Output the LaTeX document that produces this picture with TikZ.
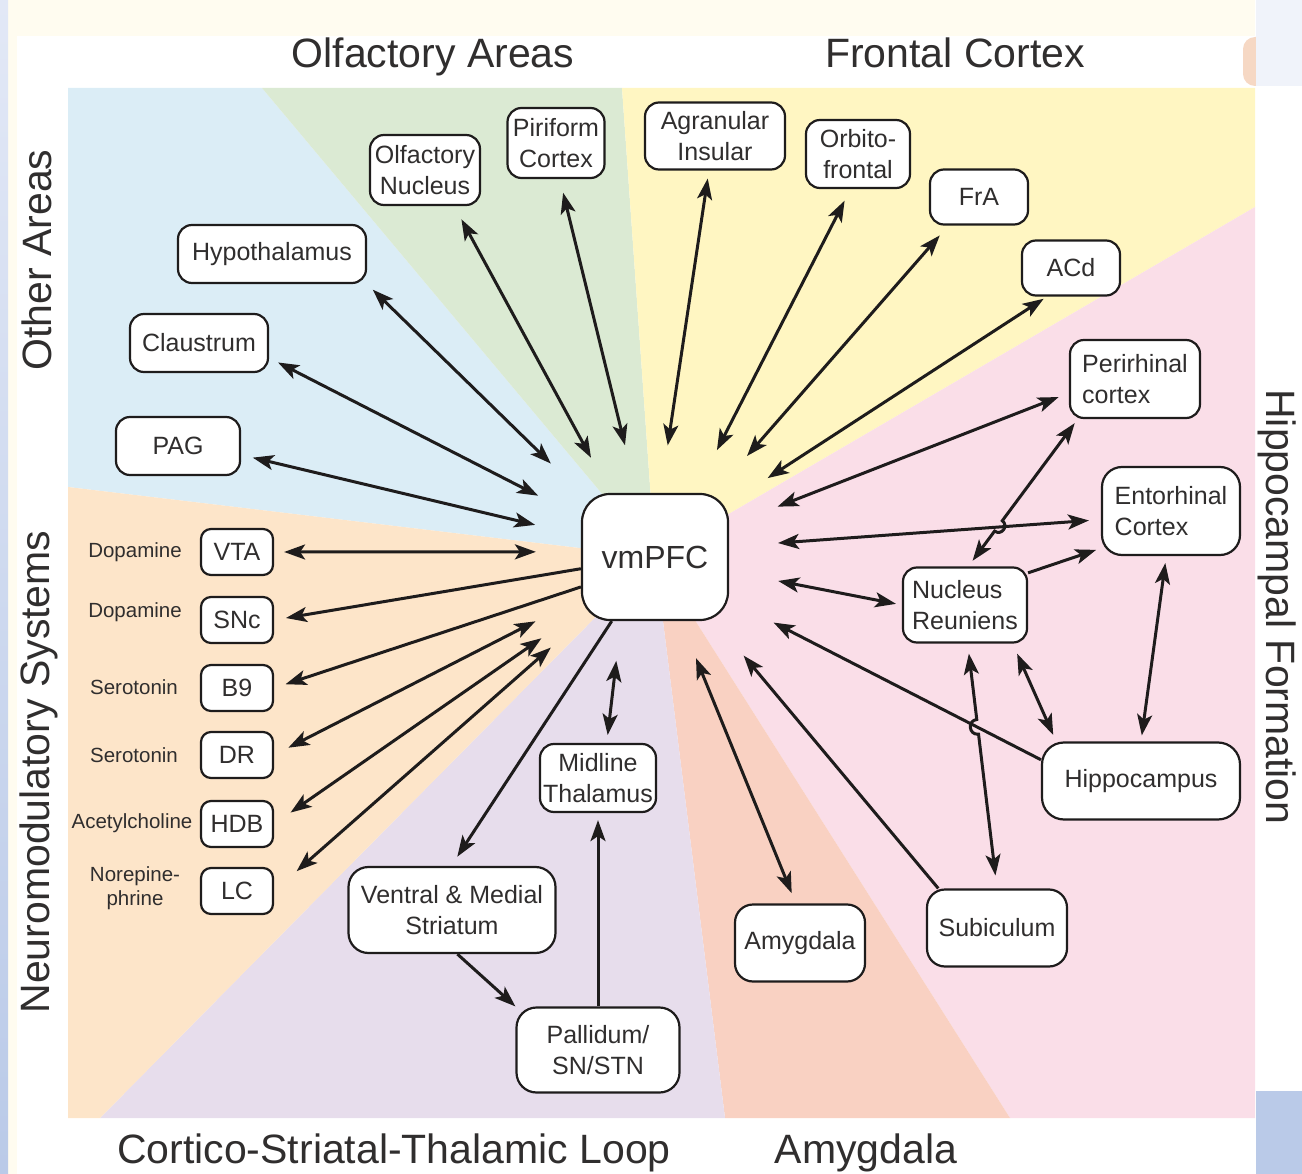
\documentclass[tikz,border=0pt]{standalone}
\usepackage{fontspec}
\setmainfont{Liberation Sans}
\usepackage{tikz}
\usetikzlibrary{arrows.meta,calc}

\definecolor{lineColor}{RGB}{30,28,28}
\definecolor{textColor}{RGB}{48,46,46}
\definecolor{otherColor}{RGB}{219,237,246}
\definecolor{olfactoryColor}{RGB}{219,234,211}
\definecolor{frontalColor}{RGB}{255,246,194}
\definecolor{hippoColor}{RGB}{250,222,232}
\definecolor{amygColor}{RGB}{249,209,194}
\definecolor{loopColor}{RGB}{231,221,236}
\definecolor{neuroColor}{RGB}{253,229,201}
\definecolor{bandColor}{RGB}{255,252,240}
\definecolor{stripTop}{RGB}{226,232,246}
\definecolor{stripBottom}{RGB}{186,202,232}
\definecolor{cornerColor}{RGB}{240,243,250}
\definecolor{peachColor}{RGB}{246,216,196}

\newcommand{\areaFont}{\fontsize{25}{31}\selectfont}
\newcommand{\hubFont}{\fontsize{32}{38}\selectfont}
\newcommand{\titleFont}{\fontsize{41}{48}\selectfont}
\newcommand{\transFont}{\fontsize{20.5}{24}\selectfont}

\tikzstyle{diagram} = [x=1pt, y=-1pt, >={Stealth[length=21pt, width=15pt, inset=5pt]}]
\tikzstyle{areaBox} = [draw=lineColor, line width=2.2pt, fill=white, rounded corners=14pt, align=center, font=\areaFont, text=textColor, inner sep=2pt]
\tikzstyle{hubBox} = [areaBox, rounded corners=28pt, font=\hubFont, minimum width=146pt, minimum height=126pt]
\tikzstyle{nucleusBox} = [areaBox, rounded corners=10pt, minimum width=72pt, minimum height=46pt]
\tikzstyle{transmitter} = [font=\transFont, text=textColor, align=center, inner sep=0pt]
\tikzstyle{panelTitle} = [font=\titleFont, text=textColor, anchor=base, inner sep=0pt]
\tikzstyle{link} = [color=lineColor, line width=3pt]

\newcommand{\sectorFill}[2]{\fill [#1] #2 -- (655,557) -- cycle;}
\newcommand{\bothLink}[4]{\draw [link, <->, shorten <=#3, shorten >=#4] (#1) -- (#2);}
\newcommand{\oneLink}[4]{\draw [link, ->, shorten <=#3, shorten >=#4] (#1) -- (#2);}
\newcommand{\hopLink}[7]{\draw [link, <->, shorten <=#6, shorten >=#7] (#1) -- ($(#1)!#3!(#2)$) to [#5=90, looseness=1.7] ($(#1)!#4!(#2)$) -- (#2);}

\begin{document}
\begin{tikzpicture}[diagram]
\useasboundingbox (0,0) rectangle (1302,1174);
% page edges
\fill [bandColor] (0,0) rectangle (1255,36);
\fill [bandColor] (0,0) rectangle (17,1174);
\shade [top color=stripTop, bottom color=stripBottom] (0,0) rectangle (8,1174);
\fill [peachColor, rounded corners=12pt] (1243,37) rectangle (1275,86);
\fill [cornerColor] (1256,0) rectangle (1302,86);
\fill [stripBottom] (1256,1091) rectangle (1302,1174);

% sectors
\sectorFill{otherColor}{(68,487) -- (68,88) -- (262,88)}
\sectorFill{olfactoryColor}{(262,88) -- (622,88)}
\sectorFill{frontalColor}{(622,88) -- (1255,88) -- (1255,207)}
\sectorFill{hippoColor}{(1255,207) -- (1255,1118) -- (1010,1118)}
\sectorFill{amygColor}{(1010,1118) -- (725,1118)}
\sectorFill{loopColor}{(725,1118) -- (100,1118)}
\sectorFill{neuroColor}{(100,1118) -- (68,1118) -- (68,487)}

% titles
\node [panelTitle] (olfTitle) at (433,68) {Olfactory Areas};
\node [panelTitle] (froTitle) at (955,68) {Frontal Cortex};
\node [panelTitle, rotate=90] (othTitle) at (51,260) {Other Areas};
\node [panelTitle, rotate=90] (neuTitle) at (49,772) {Neuromodulatory Systems};
\node [panelTitle, rotate=-90] (hipTitle) at (1266,607) {Hippocampal Formation};
\node [panelTitle] (cstTitle) at (394,1163) {Cortico-Striatal-Thalamic Loop};
\node [panelTitle] (amyTitle) at (866,1163) {Amygdala};

% areas
\node [hubBox] (vmpfc) at (655,557) {vmPFC};
\node [areaBox, minimum width=110pt, minimum height=70pt] (olfnuc) at (425,170) {Olfactory\\Nucleus};
\node [areaBox, minimum width=97pt, minimum height=70pt] (pirif) at (556,143) {Piriform\\Cortex};
\node [areaBox, minimum width=140pt, minimum height=67pt] (agran) at (715,136) {Agranular\\Insular};
\node [areaBox, minimum width=104pt, minimum height=68pt] (orbito) at (858,154) {Orbito-\\frontal};
\node [areaBox, minimum width=98pt, minimum height=55pt] (fra) at (979,197) {FrA};
\node [areaBox, minimum width=98pt, minimum height=55pt] (acd) at (1071,268) {ACd};
\node [areaBox, minimum width=188pt, minimum height=58pt] (hypo) at (272,254) {Hypothalamus};
\node [areaBox, minimum width=138pt, minimum height=58pt] (claus) at (199,343) {Claustrum};
\node [areaBox, minimum width=124pt, minimum height=58pt] (pag) at (178,446) {PAG};
\node [areaBox, align=left, minimum width=130pt, minimum height=78pt] (peri) at (1135,379) {Perirhinal\\cortex};
\node [areaBox, align=left, minimum width=138pt, minimum height=88pt, rounded corners=20pt] (ento) at (1171,511) {Entorhinal\\Cortex};
\node [areaBox, align=left, minimum width=124pt, minimum height=75pt] (nre) at (965,605) {Nucleus\\Reuniens};
\node [areaBox, minimum width=198pt, minimum height=77pt, rounded corners=22pt] (hippo) at (1141,781) {Hippocampus};
\node [areaBox, minimum width=140pt, minimum height=77pt, rounded corners=18pt] (subic) at (997,928) {Subiculum};
\node [areaBox, minimum width=130pt, minimum height=77pt, rounded corners=18pt] (amyg) at (800,943) {Amygdala};
\node [areaBox, minimum width=116pt, minimum height=68pt] (midthal) at (598,778) {Midline\\Thalamus};
\node [areaBox, minimum width=207pt, minimum height=86pt, rounded corners=20pt] (vstr) at (452,910) {Ventral \& Medial\\Striatum};
\node [areaBox, minimum width=163pt, minimum height=85pt, rounded corners=20pt] (pall) at (598,1050) {Pallidum/\\SN/STN};

% neuromodulatory nuclei
\node [nucleusBox] (vta) at (237,552) {VTA};
\node [nucleusBox] (snc) at (237,620) {SNc};
\node [nucleusBox] (b9) at (237,688) {B9};
\node [nucleusBox] (dr) at (237,755) {DR};
\node [nucleusBox] (hdb) at (237,824) {HDB};
\node [nucleusBox] (lc) at (237,891) {LC};
\node [transmitter] (vtaText) at (135,552) {Dopamine};
\node [transmitter] (sncText) at (135,612) {Dopamine};
\node [transmitter] (b9Text) at (134,687) {Serotonin};
\node [transmitter] (drText) at (134,755) {Serotonin};
\node [transmitter] (hdbText) at (132,823) {Acetylcholine};
\node [transmitter] (lcText) at (135,888) {Norepine-\\phrine};

% links to vmPFC
\bothLink{hypo.south east}{vmpfc.north west}{8pt}{42pt}
\bothLink{claus.-12}{vmpfc.152}{10pt}{48pt}
\bothLink{pag.-8}{vmpfc.164}{12pt}{47pt}
\bothLink{olfnuc.-51}{vmpfc.125}{15pt}{40pt}
\bothLink{pirif.-84}{vmpfc.106}{14pt}{49pt}
\bothLink{agran.-100}{vmpfc.85}{8pt}{48pt}
\bothLink{orbito.-102}{vmpfc.58}{13pt}{48pt}
\bothLink{fra.-137}{vmpfc.47}{13pt}{49pt}
\bothLink{acd.-130}{vmpfc.36}{4pt}{46pt}
\bothLink{peri.192}{vmpfc.23}{11pt}{52pt}
\bothLink{ento.187}{vmpfc.8}{12pt}{49pt}
\bothLink{nre.west}{vmpfc.-11}{6pt}{50pt}
\oneLink{hippo.168}{vmpfc.-30}{0pt}{50pt}
\oneLink{subic.146}{vmpfc.-47}{0pt}{45pt}
\bothLink{amyg.96}{vmpfc.-68}{11pt}{40pt}
\bothLink{midthal.76}{vmpfc.-118}{8pt}{40pt}
\bothLink{vta.east}{vmpfc.176}{10pt}{45pt}
\oneLink{vmpfc.189}{snc.east}{0pt}{12pt}
\oneLink{vmpfc.202}{b9.east}{0pt}{12pt}
\bothLink{dr.east}{vmpfc.209}{16pt}{51pt}
\bothLink{hdb.east}{vmpfc.216}{20pt}{48pt}
\bothLink{lc.east}{vmpfc.south west}{30pt}{40pt}

% loop
\oneLink{vmpfc.236}{vstr.91}{0pt}{11pt}
\oneLink{vstr.-83}{pall.north west}{0pt}{0pt}
\oneLink{pall.north}{midthal.south}{0pt}{7pt}

% hippocampal formation
\hopLink{peri.215}{nre.85}{0.69}{0.76}{bend left}{5pt}{7pt}
\hopLink{nre.-86}{subic.north}{0.31}{0.37}{bend right}{10pt}{13pt}
\oneLink{nre.27}{ento.208}{0pt}{5pt}
\bothLink{ento.-96}{hippo.north}{7pt}{6pt}
\bothLink{nre.-39}{hippo.155}{11pt}{7pt}
\end{tikzpicture}
\end{document}
